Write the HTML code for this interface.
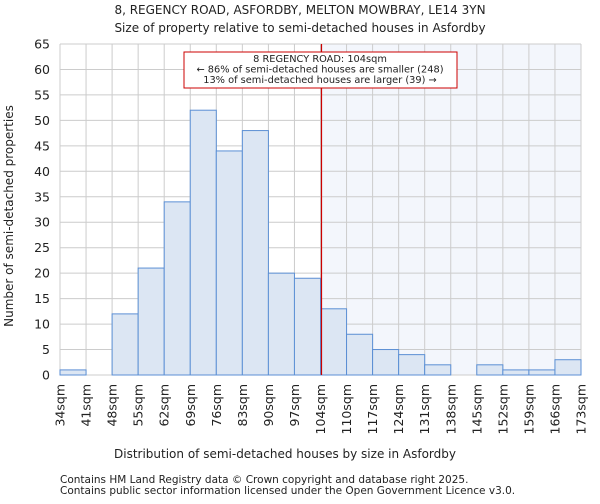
<!DOCTYPE html>
<html><head><meta charset="utf-8"><style>
body{margin:0;background:#fff;font-family:"DejaVu Sans","Liberation Sans",sans-serif;}
svg text{font-family:"DejaVu Sans","Liberation Sans",sans-serif;fill:#222;}
</style></head><body>
<svg id="chart" width="600" height="500">
<text x="300" y="14" text-anchor="middle" font-size="12">8, REGENCY ROAD, ASFORDBY, MELTON MOWBRAY, LE14 3YN</text>
<text x="300" y="32" text-anchor="middle" font-size="12">Size of property relative to semi-detached houses in Asfordby</text>
<g id="plot"></g>
<text x="285" y="458" text-anchor="middle" font-size="12">Distribution of semi-detached houses by size in Asfordby</text>
<text transform="translate(13,216) rotate(-90)" text-anchor="middle" font-size="12">Number of semi-detached properties</text>
<text x="60" y="483" font-size="10.5" fill="#444">Contains HM Land Registry data © Crown copyright and database right 2025.</text>
<text x="60" y="494" font-size="10.5" fill="#444">Contains public sector information licensed under the Open Government Licence v3.0.</text>
</svg>
<script>
const categories=["34sqm","41sqm","48sqm","55sqm","62sqm","69sqm","76sqm","83sqm","90sqm","97sqm","104sqm","110sqm","117sqm","124sqm","131sqm","138sqm","145sqm","152sqm","159sqm","166sqm","173sqm"];
const counts=[1,0,12,21,34,52,44,48,20,19,13,8,5,4,2,0,2,1,1,3];
const yTicks=[0,5,10,15,20,25,30,35,40,45,50,55,60,65];
const markerBin=10;
const X0=60,X1=581,Y0=375,Y1=44,YMAX=65;
const nb=counts.length,bw=(X1-X0)/nb;
const xs=i=>X0+i*bw, ys=v=>Y0-(v/YMAX)*(Y0-Y1);
const g=document.getElementById('plot');const NS='http://www.w3.org/2000/svg';
function mk(t,a){const e=document.createElementNS(NS,t);for(const k in a)e.setAttribute(k,a[k]);g.appendChild(e);return e;}
let e;
e=mk('rect',{x:xs(markerBin),y:Y1,width:X1-xs(markerBin),height:Y0-Y1,fill:'#f3f6fc'});


yTicks.forEach(t=>{e=mk('line',{x1:X0,x2:X1,y1:ys(t),y2:ys(t),stroke:'#ccc'});


e=mk('text',{x:X0-10,y:ys(t)+4.5,'text-anchor':'end','font-size':'12.5'});e.textContent=t;

});
categories.forEach((c,i)=>{e=mk('line',{x1:xs(i),x2:xs(i),y1:Y1,y2:Y0,stroke:'#ccc'});


e=mk('text',{transform:`translate(${xs(i)+4.5},${Y0+9}) rotate(-90)`,'text-anchor':'end','font-size':'12.5'});e.textContent=c;

});
counts.forEach((v,i)=>{if(v<=0)return;e=mk('rect',{x:xs(i),y:ys(v),width:bw,height:Y0-ys(v),fill:'#dce6f3',stroke:'#5b8fd4','stroke-width':1});

});
e=mk('line',{x1:xs(markerBin)+1,x2:xs(markerBin)+1,y1:Y1,y2:Y0,stroke:'#c00','stroke-width':1.2});


e=mk('rect',{x:184,y:52,width:273,height:36,fill:'#fff',stroke:'#c00'});


["8 REGENCY ROAD: 104sqm","← 86% of semi-detached houses are smaller (248)","13% of semi-detached houses are larger (39) →"].forEach((s,k)=>{e=mk('text',{x:320,y:62+k*10.5,'text-anchor':'middle','font-size':'9.8'});e.textContent=s;

});
</script>
</body></html>
